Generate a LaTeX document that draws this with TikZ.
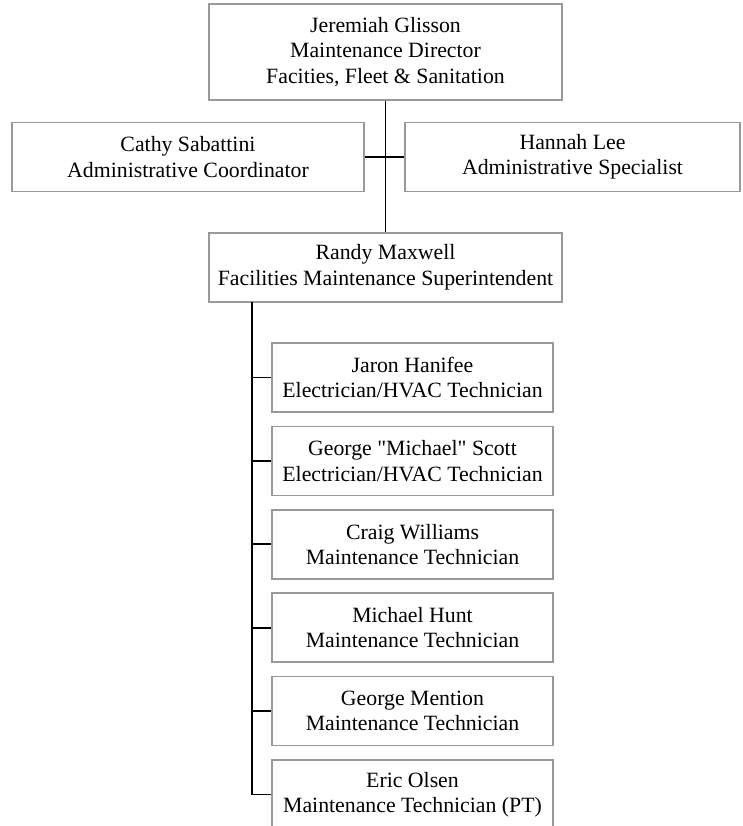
\documentclass[tikz,border=0pt]{standalone}
\usepackage{fontspec}
\setmainfont{Liberation Serif}

\tikzset{
  staffbox/.style={draw=gray!80, line width=1.5pt, fill=white, align=center,
    inner sep=0pt, minimum height=69pt, font=\fontsize{21.8}{25.5}\selectfont},
  link/.style={draw=black, line width=1.8pt}
}

\begin{document}
\begin{tikzpicture}[x=1pt, y=-1pt]
        % Page frame
        \clip (0,0) rectangle (742,826);
        \fill[white] (0,0) rectangle (742,826);

        % Director at the top
        \node[staffbox, minimum width=353pt, minimum height=96pt] (director) at (385.5,52)
            {Jeremiah Glisson\\Maintenance Director\\Facities, Fleet \& Sanitation};

        % Administrative staff beside the trunk
        \node[staffbox, minimum width=352pt] (coord) at (188,157)
            {Cathy Sabattini\\Administrative Coordinator};
        \node[staffbox, minimum width=335pt] (spec) at (572.5,157)
            {Hannah Lee\\Administrative Specialist};

        % Superintendent
        \node[staffbox, minimum width=353pt] (super) at (385.5,267.5)
            {Randy Maxwell\\Facilities Maintenance Superintendent};

        % Technicians under the superintendent
        \foreach \i/\who/\job in {1/Jaron Hanifee/Electrician\slash HVAC Technician,
                                  2/George \textquotedbl Michael\textquotedbl{} Scott/Electrician\slash HVAC Technician,
                                  3/Craig Williams/Maintenance Technician,
                                  4/Michael Hunt/Maintenance Technician,
                                  5/George Mention/Maintenance Technician,
                                  6/Eric Olsen/Maintenance Technician (PT)} {
            \node[staffbox, minimum width=281pt] (tech\i) at (412.5,{377.5+83.4*(\i-1)}) {\who\\\job};
        }

        % Connectors
        \draw[link] (director.south) -- (super.north);
        \draw[link] (coord.east) -- (spec.west);
        \coordinate (trunk) at (252,302);
        \foreach \i in {1,...,6} {
            \draw[link] (trunk) |- (tech\i.west);
        }

    \end{tikzpicture}
\end{document}
